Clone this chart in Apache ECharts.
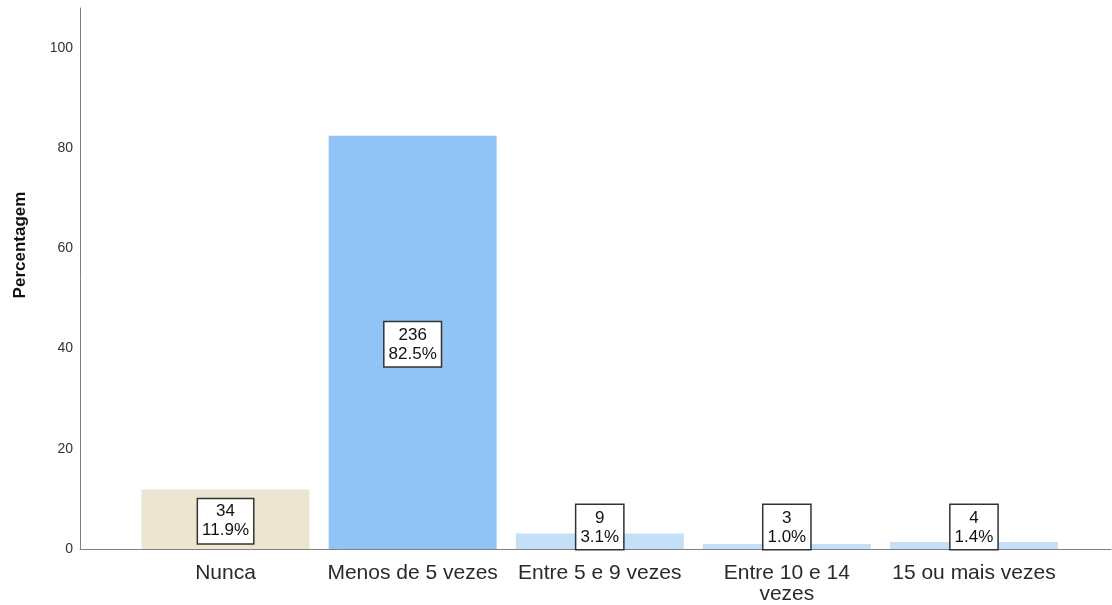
<!DOCTYPE html>
<html>
<head>
<meta charset="utf-8">
<script src="https://cdn.jsdelivr.net/npm/echarts@6/dist/echarts.min.js"></script>
<style>
html,body{margin:0;padding:0;background:#fff;}
#chart{width:1112px;height:605px;}
</style>
</head>
<body>
<div id="chart"></div>
<script>
var categories = ['Nunca', 'Menos de 5 vezes', 'Entre 5 e 9 vezes', 'Entre 10 e 14\nvezes', '15 ou mais vezes'];
var counts = [34, 236, 9, 3, 4];
var percents = [11.9, 82.5, 3.1, 1.0, 1.4];
var barColors = ['#ebe5d1', '#91c4f5', '#c5dff8', '#c5dff8', '#c5dff8'];
var yTicks = [0, 20, 40, 60, 80, 100];

var FONT = 'Liberation Sans, Arial, sans-serif';
var chart = echarts.init(document.getElementById('chart'), null, {renderer: 'canvas'});

var barData = percents.map(function (p, i) {
  var small = p < 8;
  return {
    value: p,
    itemStyle: {color: barColors[i]},
    label: {
      position: small ? 'insideBottom' : 'inside',
      distance: 0,
      offset: small ? [0, 0] : [0, 2]
    }
  };
});

chart.setOption({
  animation: false,
  backgroundColor: '#ffffff',
  grid: [
    {left: 80, right: 1, top: 8, bottom: 56},
    {left: 132, right: 44.5, top: 8, bottom: 56}
  ],
  xAxis: [
    {
      gridIndex: 0, type: 'category', data: [''],
      axisLine: {lineStyle: {color: '#808080', width: 1}},
      axisTick: {show: false}, axisLabel: {show: false}, splitLine: {show: false}
    },
    {
      gridIndex: 1, type: 'category', data: categories,
      axisLine: {show: false}, axisTick: {show: false},
      axisLabel: {
        color: '#2a2a2a', fontFamily: FONT, fontSize: 21, lineHeight: 21,
        margin: 14, interval: 0
      }
    }
  ],
  yAxis: [
    {
      gridIndex: 0, type: 'value', min: 0, max: 108, interval: 20,
      axisLine: {show: true, lineStyle: {color: '#808080', width: 1}},
      axisTick: {show: false}, splitLine: {show: false},
      axisLabel: {
        color: '#333', fontFamily: FONT, fontSize: 14, margin: 7,
        showMaxLabel: false,
        formatter: function (v) { return yTicks.indexOf(v) >= 0 ? String(v) : ''; }
      }
    },
    {
      gridIndex: 1, type: 'value', min: 0, max: 108, interval: 20, show: false
    }
  ],
  graphic: [
    {
      type: 'text', x: 20, y: 245, rotation: Math.PI / 2,
      style: {
        text: 'Percentagem', fill: '#111', font: 'bold 17px ' + FONT,
        textAlign: 'center', textVerticalAlign: 'middle'
      }
    }
  ],
  series: [
    {
      type: 'bar', xAxisIndex: 1, yAxisIndex: 1,
      barWidth: 168,
      data: barData,
      label: {
        show: true,
        formatter: function (p) {
          return counts[p.dataIndex] + '\n' + percents[p.dataIndex].toFixed(1) + '%';
        },
        color: '#111', fontFamily: FONT, fontSize: 17, lineHeight: 19,
        backgroundColor: '#ffffff', borderColor: '#333', borderWidth: 1.5,
        padding: [4, 4, 2, 4], align: 'center'
      }
    }
  ]
});
</script>
</body>
</html>
